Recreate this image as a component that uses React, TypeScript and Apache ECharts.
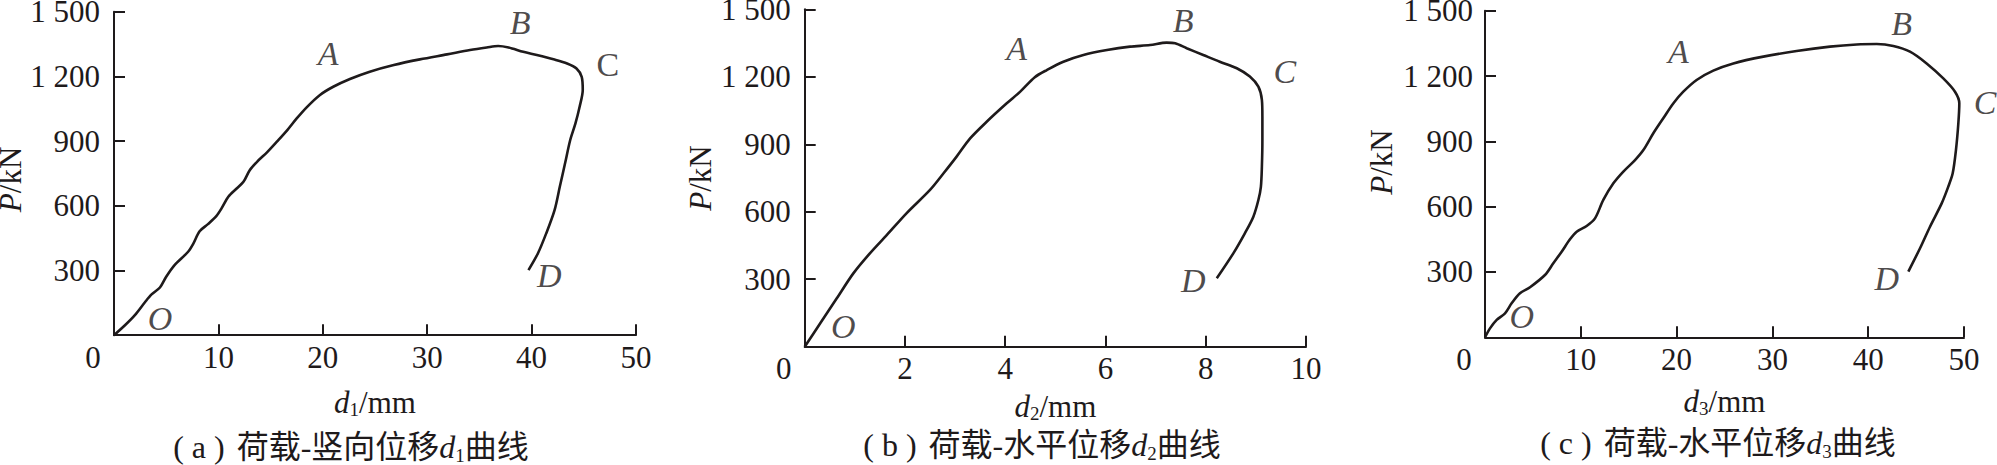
import React, { useEffect, useRef } from 'react';
import * as echarts from 'echarts';

// ---- data ----
const d1Values = [0, 1.05, 2.0, 3.0, 3.6, 4.4, 5.0, 5.8, 7.1, 7.6, 8.2, 9.0, 9.8, 10.3, 10.95, 11.75, 12.4, 13.0, 13.7, 14.7, 15.6, 16.6, 17.5, 18.5, 19.7, 21.0, 22.6, 24.5, 26.8, 29.3, 31.9, 34.1, 35.7, 36.8, 37.8, 39.2, 40.5, 42.1, 43.4, 44.3, 44.8, 44.9, 44.6, 44.2, 43.7, 43.2, 42.7, 42.2, 41.4, 40.6, 39.7];
const p1Values = [0, 46, 93, 155, 189, 221, 271, 325, 387, 425, 482, 515, 552, 588, 642, 680, 711, 765, 804, 850, 897, 951, 1005, 1059, 1113, 1152, 1188, 1222, 1253, 1279, 1302, 1322, 1334, 1341, 1334, 1314, 1299, 1279, 1260, 1237, 1198, 1137, 1059, 982, 905, 796, 688, 580, 472, 379, 302];

const d2Values = [0, 0.31, 0.64, 0.97, 1.30, 1.64, 2.03, 2.50, 2.77, 3.03, 3.30, 3.63, 4.03, 4.30, 4.59, 4.83, 5.16, 5.56, 6.03, 6.49, 6.89, 7.22, 7.39, 7.62, 7.95, 8.28, 8.62, 8.88, 9.05, 9.12, 9.13, 9.13, 9.12, 9.10, 9.05, 8.95, 8.78, 8.55, 8.22];
const p2Values = [0, 104, 215, 326, 415, 497, 593, 697, 771, 845, 926, 1000, 1082, 1134, 1198, 1230, 1267, 1297, 1319, 1334, 1341, 1352, 1349, 1327, 1297, 1267, 1238, 1201, 1156, 1097, 1023, 919, 800, 711, 652, 578, 504, 415, 304];

const d3Values = [0, 0.52, 1.22, 2.09, 2.78, 3.65, 4.70, 6.26, 7.13, 8.0, 8.87, 9.57, 10.61, 11.48, 12.35, 13.40, 14.44, 15.66, 16.53, 17.57, 18.61, 19.65, 20.70, 22.09, 23.83, 25.92, 29.05, 32.53, 36.01, 38.80, 40.89, 42.62, 44.36, 46.10, 47.84, 49.06, 49.51, 49.41, 49.16, 48.82, 48.36, 47.67, 46.45, 45.41, 44.19];
const p3Values = [0, 41, 80, 110, 156, 202, 230, 286, 340, 393, 450, 485, 511, 546, 631, 707, 761, 814, 860, 937, 1006, 1074, 1128, 1182, 1225, 1258, 1289, 1315, 1335, 1345, 1347, 1338, 1312, 1258, 1189, 1128, 1075, 983, 860, 753, 692, 615, 508, 409, 302];

// point annotations O, A, B, C, D (data coordinates)
const pointNames = ['O', 'A', 'B', 'C', 'D'];
const labelD1 = [4.4, 20.5, 38.9, 47.3, 41.7];
const labelP1 = [77, 1307, 1449, 1257, 278];
const labelD2 = [0.77, 4.23, 7.55, 9.58, 7.75];
const labelP2 = [89, 1327, 1452, 1223, 296];
const labelD3 = [3.83, 20.18, 43.49, 52.19, 41.93];
const labelP3 = [95, 1312, 1439, 1078, 271];
const uprightA = [false, false, false, true, false];
const uprightB = [false, false, false, false, false];

const xMaxes = [50, 10, 50];
const xIntervals = [10, 2, 10];
const yMax = 1500;
const yInterval = 300;
const subscripts = ['1', '2', '3'];
const captionLetters = ['a', 'b', 'c'];
const captionTexts = ['荷载-竖向位移', '荷载-水平位移', '荷载-水平位移'];

// ---- styling / layout ----
const INK = '#1e1a1b';
const FONT = '"Liberation Serif", "Times New Roman", serif';
const CJK = '"Liberation Serif", "Noto Sans CJK SC", serif';

const layouts = [
  { left: 114, top: 11.7, width: 522, height: 323.5, yLabelMargin: 14, yNameGap: 76, xNameGap: 50, capX: 351, capY: 447, yNameShift: -6 },
  { left: 804.7, top: 9.3, width: 501.3, height: 337.4, yLabelMargin: 14, yNameGap: 91, xNameGap: 37, capX: 1042, capY: 445, yNameShift: 0 },
  { left: 1485, top: 10.7, width: 479, height: 326.6, yLabelMargin: 12, yNameGap: 91, xNameGap: 47, capX: 1718, capY: 443, yNameShift: 12 },
];

function yFmt(v: number) {
  if (v >= 1000) {
    return `${Math.floor(v / 1000)} ${String(v % 1000).padStart(3, '0')}`;
  }
  return String(v);
}

function buildOption() {
  const curves = [
    [d1Values, p1Values],
    [d2Values, p2Values],
    [d3Values, p3Values],
  ];
  const labelSets = [
    [labelD1, labelP1, uprightA],
    [labelD2, labelP2, uprightB],
    [labelD3, labelP3, uprightB],
  ];

  const grid: any[] = [];
  const xAxis: any[] = [];
  const yAxis: any[] = [];
  const series: any[] = [];
  const graphic: any[] = [];

  layouts.forEach((L, i) => {
    grid.push({ left: L.left, top: L.top, width: L.width, height: L.height, containLabel: false, outerBoundsMode: 'none' });
    const axisLine = { show: true, onZero: false, lineStyle: { color: INK, width: 2 } };
    const axisTick = { show: true, inside: true, length: 11, lineStyle: { color: INK, width: 2 } };
    xAxis.push({
      type: 'value',
      gridIndex: i,
      min: 0,
      max: xMaxes[i],
      interval: xIntervals[i],
      axisLine,
      axisTick,
      splitLine: { show: false },
      axisLabel: {
        fontSize: 31,
        fontFamily: FONT,
        color: INK,
        margin: 8,
        lineHeight: 28,
        formatter: (v: number) => (v === 0 ? '{z|0}' : String(v)),
        rich: { z: { fontSize: 31, fontFamily: FONT, color: INK, lineHeight: 28, padding: [0, 42, 0, 0] } },
      },
      name: `{i|d}{s|${subscripts[i]}}/mm`,
      nameLocation: 'middle',
      nameGap: L.xNameGap,
      nameTextStyle: {
        fontSize: 31,
        fontFamily: FONT,
        color: INK,
        lineHeight: 34,
        rich: {
          i: { fontSize: 31, fontFamily: FONT, fontStyle: 'italic', color: INK, lineHeight: 34 },
          s: { fontSize: 19, fontFamily: FONT, color: INK, lineHeight: 18, verticalAlign: 'bottom' },
        },
      },
    });
    yAxis.push({
      type: 'value',
      gridIndex: i,
      min: 0,
      max: yMax,
      interval: yInterval,
      axisLine,
      axisTick,
      splitLine: { show: false },
      axisLabel: {
        fontSize: 31,
        fontFamily: FONT,
        color: INK,
        margin: L.yLabelMargin,
        lineHeight: 20,
        showMinLabel: false,
        formatter: yFmt,
      },
      name: '{i|P}/kN',
      nameLocation: 'middle',
      nameGap: L.yNameGap,
      nameTextStyle: {
        fontSize: 31,
        fontFamily: FONT,
        color: INK,
        lineHeight: 26,
        padding: L.yNameShift >= 0 ? [0, 0, 0, L.yNameShift * 2] : [0, -L.yNameShift * 2, 0, 0],
        rich: { i: { fontSize: 31, fontFamily: FONT, fontStyle: 'italic', color: INK, lineHeight: 26 } },
      },
    });

    const [xs, ys] = curves[i];
    series.push({
      type: 'line',
      xAxisIndex: i,
      yAxisIndex: i,
      data: xs.map((x, k) => [x, ys[k]]),
      showSymbol: false,
      symbol: 'none',
      smooth: 0.3,
      clip: false,
      lineStyle: { color: INK, width: 2.6 },
      silent: true,
    });

    const [lx, ly, up] = labelSets[i] as [number[], number[], boolean[]];
    series.push({
      type: 'scatter',
      xAxisIndex: i,
      yAxisIndex: i,
      clip: false,
      silent: true,
      symbolSize: 1,
      itemStyle: { color: 'rgba(0,0,0,0)' },
      data: pointNames.map((n, k) => ({
        value: [lx[k], ly[k]],
        name: n,
        label: { fontStyle: up[k] ? 'normal' : 'italic' },
      })),
      label: {
        show: true,
        position: 'inside',
        formatter: (p: any) => p.name,
        fontSize: 34,
        fontFamily: FONT,
        color: INK,
      },
      z: 5,
    });

    graphic.push({
      type: 'text',
      x: L.capX,
      y: L.capY,
      style: {
        text: `{p|( ${captionLetters[i]} )} ${captionTexts[i]}{i|d}{s|${subscripts[i]}}曲线`,
        fontSize: 32,
        fontFamily: CJK,
        fill: INK,
        align: 'center',
        verticalAlign: 'middle',
        lineHeight: 36,
        rich: {
          p: { fontSize: 32, fontFamily: FONT, fill: INK, lineHeight: 36, padding: [0, 4, 0, 0] },
          i: { fontSize: 32, fontFamily: FONT, fontStyle: 'italic', fill: INK, lineHeight: 36 },
          s: { fontSize: 19, fontFamily: FONT, fill: INK, lineHeight: 19, verticalAlign: 'bottom' },
        },
      },
    });
  });

  return {
    animation: false,
    backgroundColor: '#ffffff',
    grid,
    xAxis,
    yAxis,
    series,
    graphic,
  };
}

export default function App() {
  const ref = useRef<HTMLDivElement>(null);
  useEffect(() => {
    if (!ref.current) return;
    const chart = echarts.init(ref.current, null, { renderer: 'svg' });
    chart.setOption(buildOption() as any);
    return () => chart.dispose();
  }, []);
  return (
    <div
      ref={ref}
      style={{ position: 'fixed', left: 0, top: 0, width: 1997, height: 465, background: '#fff' }}
    />
  );
}
